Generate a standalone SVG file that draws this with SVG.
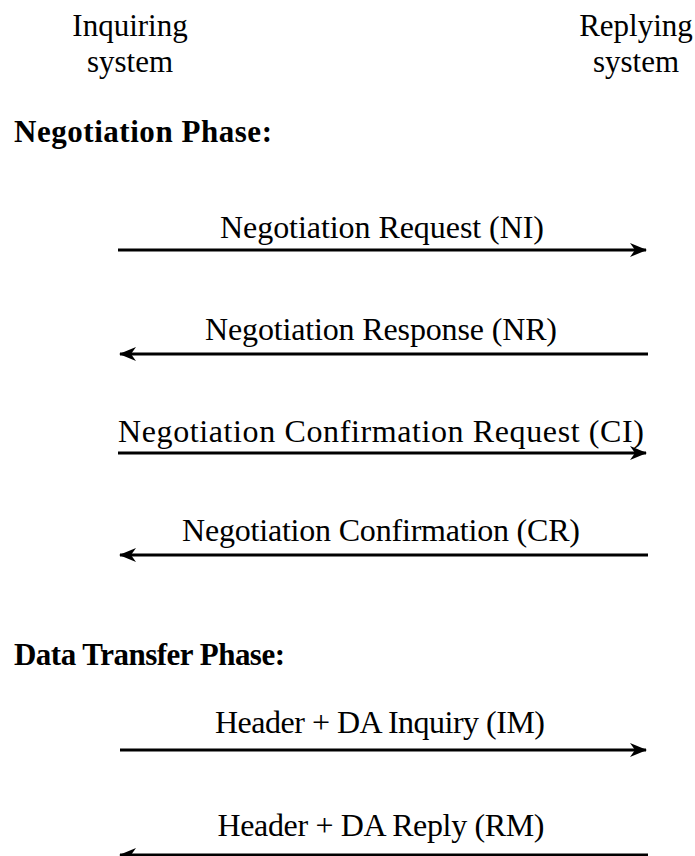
<svg xmlns="http://www.w3.org/2000/svg" width="695" height="856" viewBox="0 0 695 856">
<style>
text{font-family:"Liberation Serif","Times New Roman",serif;font-size:32px;fill:#000}
.h{font-weight:bold;font-size:31px}
.t{font-size:31px}
.c{text-anchor:middle}
line{stroke:#000;stroke-width:2.8}
</style>
<defs>
<marker id="ah" viewBox="0 0 17 16" refX="16" refY="8" markerWidth="17" markerHeight="16" markerUnits="userSpaceOnUse" orient="auto-start-reverse">
<path d="M0,1 L17,8 L0,15 L5,8 Z" fill="#000"/>
</marker>
</defs>
<rect width="695" height="856" fill="#fff"/>
<g id="inquiring">
<text class="c t" x="130" y="36">Inquiring</text>
<text class="c t" x="130" y="72">system</text>
</g>
<g id="replying">
<text class="c t" x="636" y="36">Replying</text>
<text class="c t" x="636" y="72">system</text>
</g>
<g id="phase-negotiation"><text class="h" x="14" y="142" textLength="258">Negotiation Phase:</text></g>
<g id="phase-data"><text class="h" x="14" y="665" textLength="271">Data Transfer Phase:</text></g>
<g id="labels">
<text class="c" x="382" y="238" textLength="324">Negotiation Request (NI)</text>
<text class="c" x="381" y="340" textLength="352">Negotiation Response (NR)</text>
<text class="c" x="381" y="442" textLength="526">Negotiation Confirmation Request (CI)</text>
<text class="c" x="381" y="541" textLength="398">Negotiation Confirmation (CR)</text>
<text class="c" x="380" y="733" textLength="330">Header + DA Inquiry (IM)</text>
<text class="c" x="381" y="836" textLength="327">Header + DA Reply (RM)</text>
</g>
<g id="connectors">
<line x1="118" y1="250" x2="646" y2="250" marker-end="url(#ah)"/>
<line x1="648" y1="354" x2="120" y2="354" marker-end="url(#ah)"/>
<line x1="118" y1="453" x2="646" y2="453" marker-end="url(#ah)"/>
<line x1="648" y1="555" x2="120" y2="555" marker-end="url(#ah)"/>
<line x1="120" y1="750" x2="646" y2="750" marker-end="url(#ah)"/>
<line x1="648" y1="855" x2="120" y2="855" marker-end="url(#ah)"/>
</g>
</svg>
